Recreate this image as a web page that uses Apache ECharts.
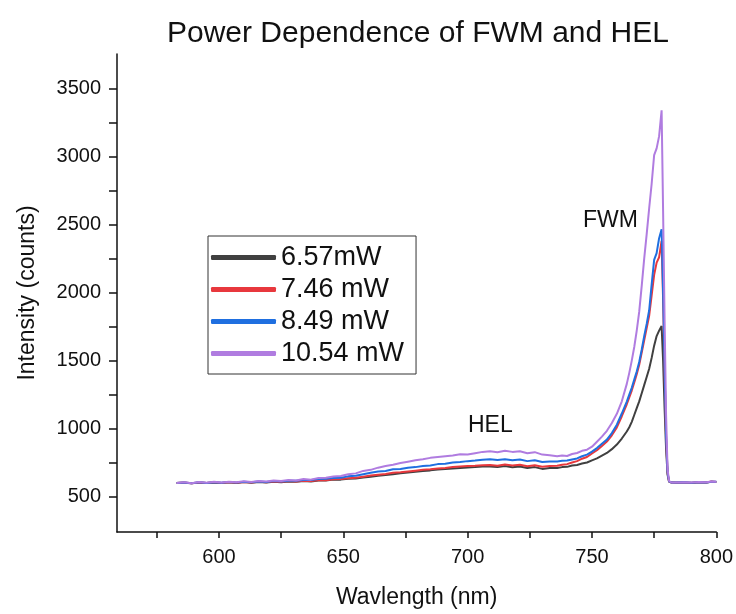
<!DOCTYPE html>
<html>
<head>
<meta charset="utf-8">
<script src="https://cdn.jsdelivr.net/npm/echarts@6/dist/echarts.min.js"></script>
<style>html,body{margin:0;padding:0;background:#fff}#c{width:736px;height:614px}</style>
</head>
<body>
<div id="c"></div>
<script>
const wavelength = [583,586,589,592,595,598,601,604,607,610,613,616,619,622,625,628,631,634,637,640,643,646,649,652,655,658,661,664,667,670,673,676,679,682,685,688,691,694,697,700,703,706,709,712,715,718,721,724,727,730,733,736,
738,740,742,744,746,748,750,752,754,756,758,760,762,764,765,766,767,768,769,770,771,772,773,774,775,776,777,778,
778.6,779.2,779.8,780.4,781,782,784,787,790,793,796,798,800];

const p657 = [600,602,598,603,600,604,600,605,601,607,602,608,604,610,606,612,609,615,612,619,619,625,625,631,633,641,647,653,659,665,671,677,683,689,693,699,703,707,711,715,717,722,721,717,725,716,721,710,717,704,711,710,
717,719,729,733,743,751,767,781,801,821,849,883,927,979,1010,1050,1100,1150,1200,1260,1320,1380,1440,1520,1610,1680,1720,1754,
1500,1150,850,660,610,603,602,604,601,605,603,609,607];

const p746 = [601,603,599,604,600,605,601,606,602,608,604,610,605,612,608,614,611,617,614,621,621,627,629,635,639,647,655,661,667,675,679,685,691,697,701,707,711,717,721,725,727,731,733,727,737,729,735,723,731,719,725,727,
735,739,751,761,779,791,817,841,873,905,951,1009,1091,1179,1230,1280,1340,1400,1470,1560,1650,1740,1830,1980,2130,2220,2260,2380,
1950,1420,930,675,610,603,603,604,602,605,604,611,608];

const p849 = [600,604,598,605,600,606,602,608,603,610,606,612,608,614,611,617,617,623,623,629,631,637,639,649,653,665,675,685,689,701,703,713,717,725,729,739,741,751,755,761,765,771,775,769,775,767,773,761,767,755,759,759,
763,765,773,781,797,809,831,857,889,919,967,1029,1111,1199,1250,1300,1360,1420,1490,1580,1680,1770,1870,2060,2240,2290,2400,2465,
2000,1450,950,680,612,603,603,605,602,606,604,610,609];

const p1054 = [601,605,599,607,602,609,604,610,606,613,608,615,611,619,615,623,619,629,625,637,639,648,651,665,671,689,697,713,725,735,747,757,767,775,785,791,797,803,811,809,819,829,833,827,837,829,833,819,827,809,805,797,
803,799,813,821,837,845,867,904,941,984,1041,1109,1201,1329,1410,1500,1600,1720,1860,2050,2250,2430,2620,2800,3010,3060,3150,3340,
2600,1800,1100,700,615,604,604,606,603,607,605,612,610];

const seriesNames = ['6.57mW','7.46 mW','8.49 mW','10.54 mW'];
const seriesValues = [p657, p746, p849, p1054];
const colors = ['#404040','#e8383d','#1f6fe0','#b07ce0'];

const xLabelValues = [600,650,700,750,800];
const xTickValues = [575,600,625,650,675,700,725,750,775,800];
const yLabelValues = [500,1000,1500,2000,2500,3000,3500];
const yTickValues = [500,750,1000,1250,1500,1750,2000,2250,2500,2750,3000,3250,3500];

const font = 'Liberation Sans, Arial, sans-serif';
const chart = echarts.init(document.getElementById('c'));
chart.setOption({
  animation: false,
  backgroundColor: '#fff',
  title: {
    text: 'Power Dependence of FWM and HEL',
    left: 162, top: 14,
    textStyle: {fontFamily: font, fontSize: 30, fontWeight: 'normal', color: '#111'}
  },
  grid: {left: 117, right: 19, top: 54, bottom: 75},
  legend: {
    orient: 'vertical', left: 208, top: 236,
    padding: [8, 12, 7, 3],
    itemWidth: 65, itemHeight: 5, itemGap: 5,
    icon: 'roundRect',
    borderColor: '#333', borderWidth: 1,
    textStyle: {fontFamily: font, fontSize: 27, color: '#111'},
    data: seriesNames
  },
  xAxis: {
    type: 'value', min: 559, max: 800,
    name: 'Wavlength (nm)', nameLocation: 'middle', nameGap: 54,
    nameTextStyle: {fontFamily: font, fontSize: 23, color: '#111'},
    axisLine: {onZero: false, lineStyle: {color: '#111', width: 1.5}},
    axisTick: {show: true, inside: false, length: 6, customValues: xTickValues, lineStyle: {color: '#111', width: 1.5}},
    axisLabel: {customValues: xLabelValues, fontFamily: font, fontSize: 20, color: '#111', margin: 15},
    splitLine: {show: false}
  },
  yAxis: {
    type: 'value', min: 240, max: 3754,
    name: 'Intensity (counts)', nameLocation: 'middle', nameGap: 78,
    nameTextStyle: {fontFamily: font, fontSize: 23, color: '#111'},
    axisLine: {show: true, onZero: false, lineStyle: {color: '#111', width: 1.5}},
    axisTick: {show: true, inside: false, length: 8, customValues: yTickValues, lineStyle: {color: '#111', width: 1.5}},
    axisLabel: {customValues: yLabelValues, fontFamily: font, fontSize: 20, color: '#111', margin: 16,
      formatter: v => String(v)},
    splitLine: {show: false}
  },
  graphic: [
    {type: 'text', left: 583, top: 209, style: {text: 'FWM', fontFamily: font, fontSize: 23, fill: '#111'}},
    {type: 'text', left: 468, top: 414, style: {text: 'HEL', fontFamily: font, fontSize: 23, fill: '#111'}}
  ],
  series: seriesValues.map((vals, k) => ({
    name: seriesNames[k], type: 'line', showSymbol: false, symbol: 'none',
    color: colors[k],
    lineStyle: {width: 2, color: colors[k]},
    data: wavelength.map((w, i) => [w, vals[i]])
  }))
});
</script>
</body>
</html>
